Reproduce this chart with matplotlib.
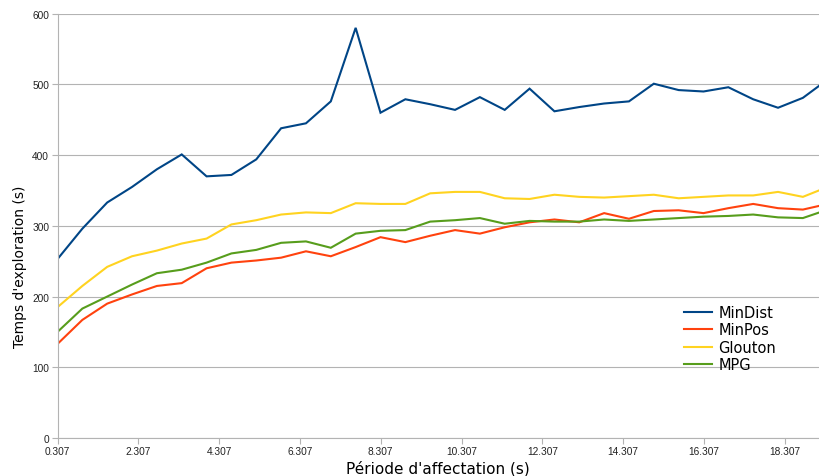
import matplotlib

matplotlib.use("Agg")
import matplotlib.pyplot as plt
import numpy as np

# assignment periods (s) and exploration times (s) per strategy
periods = np.round(0.307 + 0.615 * np.arange(32), 3)

min_dist = [253, 296, 333, 355, 380, 401, 370, 372, 394, 438, 445, 476,
            580, 460, 479, 472, 464, 482, 464, 494, 462, 468, 473, 476,
            501, 492, 490, 496, 479, 467, 481, 507]
min_pos = [133, 167, 190, 203, 215, 219, 240, 248, 251, 255, 264, 257,
           270, 284, 277, 286, 294, 289, 298, 305, 309, 305, 318, 310,
           321, 322, 318, 325, 331, 325, 323, 331]
glouton = [185, 215, 242, 257, 265, 275, 282, 302, 308, 316, 319, 318,
           332, 331, 331, 346, 348, 348, 339, 338, 344, 341, 340, 342,
           344, 339, 341, 343, 343, 348, 341, 355]
mpg = [150, 183, 200, 217, 233, 238, 248, 261, 266, 276, 278, 269,
       289, 293, 294, 306, 308, 311, 303, 307, 306, 306, 309, 307,
       309, 311, 313, 314, 316, 312, 311, 323]

series = [
    ("MinDist", min_dist, "#004586"),
    ("MinPos", min_pos, "#ff420e"),
    ("Glouton", glouton, "#ffd320"),
    ("MPG", mpg, "#579d1c"),
]

x_ticks = [0.307 + 2 * k for k in range(10)]
y_ticks = list(range(0, 601, 100))

fig = plt.figure(figsize=(8.19, 4.77), dpi=100)
ax = fig.add_axes([57.5 / 819, 38 / 477, 1 - 57.5 / 819, 424.3 / 477])

for name, values, color in series:
    ax.plot(periods, values, color=color, linewidth=1.5, label=name,
            solid_joinstyle="miter")

ax.set_xlim(0.307, 0.307 + (819 - 57.5) / 40.4)
ax.set_ylim(0, 600)
ax.set_xticks(x_ticks)
ax.set_xticklabels([f"{t:.3f}" for t in x_ticks],
                   fontfamily="Liberation Sans", fontsize=7.3)
ax.set_yticks(y_ticks)
ax.set_yticklabels([str(t) for t in y_ticks],
                   fontfamily="Liberation Sans", fontsize=7.3)

ax.grid(axis="y", color="#b3b3b3", linewidth=0.8)
ax.set_axisbelow(True)
for side in ("top", "right"):
    ax.spines[side].set_visible(False)
for side in ("left", "bottom"):
    ax.spines[side].set_color("#b3b3b3")
    ax.spines[side].set_linewidth(0.8)
ax.tick_params(axis="both", direction="out", length=4, width=0.8,
               color="#b3b3b3", labelcolor="#222222", pad=2)

ax.set_xlabel("Période d'affectation (s)", fontsize=11, labelpad=3)
ax.set_ylabel("Temps d'exploration (s)", fontsize=10, labelpad=8)
ax.yaxis.set_label_coords(-0.040, 0.405)

ax.legend(loc="upper left", bbox_to_anchor=(684 / 819, 1 - 306 / 477),
          bbox_transform=fig.transFigure, frameon=False, fontsize=10.5,
          handlelength=1.9, handletextpad=0.45, labelspacing=0.17,
          borderaxespad=0, borderpad=0)

fig.savefig("out.png", dpi=100)
